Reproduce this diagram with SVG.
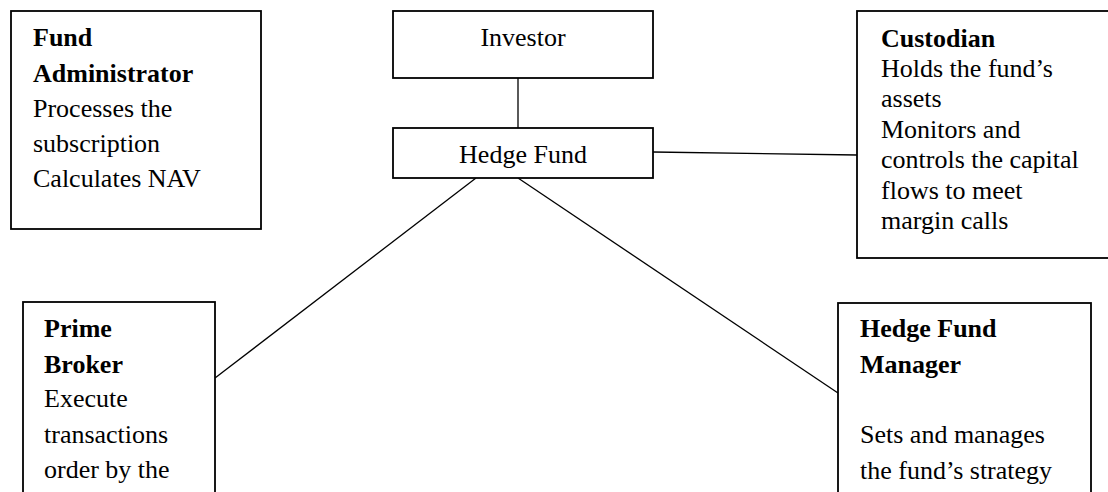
<svg xmlns="http://www.w3.org/2000/svg" width="1108" height="492" viewBox="0 0 1108 492">
<style>
.box{fill:#fff;stroke:#000;stroke-width:1.8}
.t{font-family:"Liberation Serif","Times New Roman",serif;font-size:26px;fill:#000}
.b{font-weight:bold}
.c{text-anchor:middle}
.ln{stroke:#000;stroke-width:1.3;fill:none}
</style>
<rect width="1108" height="492" fill="#fff"/>
<g id="connectors">
<line class="ln" x1="518" y1="78" x2="518" y2="128"/>
<line class="ln" x1="653" y1="152" x2="857" y2="155"/>
<line class="ln" x1="476" y1="178" x2="215" y2="378"/>
<line class="ln" x1="518" y1="178" x2="838" y2="393"/>
</g>
<g id="fund-administrator">
<rect class="box" x="11" y="11" width="250" height="218"/>
<text class="t b" x="33" y="46">Fund</text>
<text class="t b" x="33" y="82">Administrator</text>
<text class="t" x="33" y="117">Processes the</text>
<text class="t" x="33" y="152">subscription</text>
<text class="t" x="33" y="187">Calculates NAV</text>
</g>
<g id="investor">
<rect class="box" x="393" y="11" width="260" height="67"/>
<text class="t c" x="523" y="46">Investor</text>
</g>
<g id="hedge-fund">
<rect class="box" x="393" y="128" width="260" height="50"/>
<text class="t c" x="523" y="163">Hedge Fund</text>
</g>
<g id="custodian">
<rect class="box" x="857" y="11" width="260" height="247"/>
<text class="t b" x="881" y="47">Custodian</text>
<text class="t" x="881" y="77">Holds the fund’s</text>
<text class="t" x="881" y="107">assets</text>
<text class="t" x="881" y="138">Monitors and</text>
<text class="t" x="881" y="168">controls the capital</text>
<text class="t" x="881" y="199">flows to meet</text>
<text class="t" x="881" y="229">margin calls</text>
</g>
<g id="prime-broker">
<rect class="box" x="23" y="302" width="192" height="200"/>
<text class="t b" x="44" y="337">Prime</text>
<text class="t b" x="44" y="373">Broker</text>
<text class="t" x="44" y="407">Execute</text>
<text class="t" x="44" y="443">transactions</text>
<text class="t" x="44" y="478">order by the</text>
</g>
<g id="hedge-fund-manager">
<rect class="box" x="838" y="303" width="253" height="200"/>
<text class="t b" x="860" y="337">Hedge Fund</text>
<text class="t b" x="860" y="373">Manager</text>
<text class="t" x="860" y="443">Sets and manages</text>
<text class="t" x="860" y="479">the fund’s strategy</text>
</g>
</svg>
